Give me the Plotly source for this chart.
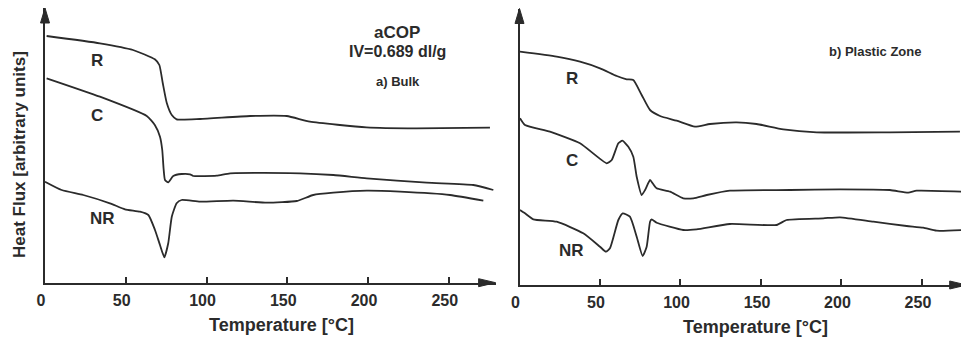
import plotly.graph_objects as go

# ---------------- data (temperature in °C, heat flux in arbitrary units) ----------------
# a) Bulk
bulk_R_T = [1, 34, 54.5, 68, 70.8, 72.9, 75.4, 78.5, 81.5, 96, 127, 149.7, 164, 199, 230, 275.5]
bulk_R_H = [246.7, 239.4, 232.7, 223.4, 217.7, 199.7, 179.7, 167.7, 163.4, 163.7, 166.7, 166.7, 161, 155.4, 154.4, 155]

bulk_C_T = [1, 34, 63, 68, 71.2, 72.6, 73.4, 74.3, 76.3, 79.4, 84.6, 89.8, 91.8, 106.3, 114.6, 157.9, 178.5, 199.2, 236.3, 265.2, 277.6]
bulk_C_H = [204.4, 186, 166.7, 157.7, 146, 132.7, 114.7, 102.7, 100.4, 106.7, 108.7, 108.4, 106.7, 107, 109.4, 109.4, 107.7, 104.4, 100, 97.7, 92.7]

bulk_NR_T = [0, 10.3, 23.7, 40.2, 49.5, 58.8, 64, 68.1, 71.2, 73.9, 76.3, 78.5, 81.5, 84.6, 96, 116.6, 137.3, 155.9, 166.1, 178.5, 199.2, 219.8, 250.8, 271.4]
bulk_NR_H = [101, 92.7, 87.7, 79.4, 73.4, 71, 67.7, 52.7, 37.7, 25.4, 39.4, 66, 79.4, 82.7, 81, 82, 80, 81.7, 87.7, 90, 92, 91, 87.7, 82]

# b) Plastic Zone
pz_R_T = [0.3, 23.1, 37.6, 50, 60.4, 66.6, 70.7, 75.9, 81.1, 87.3, 97.6, 109, 118.3, 134.9, 147.3, 163.9, 184.6, 230.1, 273.6]
pz_R_H = [233.3, 228.3, 223.3, 216.7, 209, 205.7, 205, 190, 175, 169, 164.3, 158.3, 161, 162.7, 161, 155.7, 152.7, 152.7, 153.3]

pz_C_T = [0.3, 3.4, 18.9, 37.6, 54.2, 57.3, 61.4, 63.9, 67.6, 70.7, 72.8, 75.9, 78, 81.1, 82.7, 85.2, 93.5, 101.7, 108, 116.3, 130.7, 168, 199.1, 230.1, 241.5, 246.7, 275.7]
pz_C_H = [166.7, 160, 153.3, 141.7, 121.7, 125, 141.7, 144.3, 138.3, 128.3, 108.3, 90, 95, 105, 101.7, 96.7, 93.3, 86.7, 86.7, 90, 94.3, 95, 95.7, 95, 92.3, 94.3, 93.3]

pz_NR_T = [0.3, 3.4, 8.6, 23.1, 39.6, 50, 53.7, 56.2, 61.4, 64.1, 68.6, 72.8, 76.5, 79, 81.1, 82.1, 85.2, 101.7, 110, 130.7, 159.7, 165.9, 188.7, 199.1, 219.8, 240.5, 250.8, 259.1, 275.7]
pz_NR_H = [75, 71.7, 65.7, 63.3, 51.7, 38.3, 33.3, 36.7, 65, 71.7, 68.3, 48.3, 29, 38.3, 63.3, 65.7, 62.3, 55, 55.7, 61, 60, 65, 66.7, 67.7, 63.3, 59, 57.3, 54.3, 55]

tick_vals = [0, 50, 100, 150, 200, 250]
tick_text = ["0", "50", "100", "150", "200", "250"]

# ---------------- styling ----------------
INK = "#2b2b2b"
FONT = "Liberation Sans"
OFF = 8                      # the page body adds an 8px margin; lay out in screen pixels minus it
W, H = 969 - OFF, 338 - OFF

def px(xs):   # screen x -> paper fraction
    return min(1.0, max(0.0, (xs - OFF) / W))

def py(ys):   # screen y -> paper fraction
    return min(1.0, max(0.0, 1 - (ys - OFF) / H))

fig = go.Figure()

def add_curve(x, y, xa, ya):
    fig.add_trace(go.Scatter(x=x, y=y, mode="lines", xaxis=xa, yaxis=ya,
                             line=dict(color=INK, width=1.8, shape="spline", smoothing=0.5),
                             showlegend=False, hoverinfo="skip", cliponaxis=False))

add_curve(bulk_R_T, bulk_R_H, "x", "y")
add_curve(bulk_C_T, bulk_C_H, "x", "y")
add_curve(bulk_NR_T, bulk_NR_H, "x", "y")
add_curve(pz_R_T, pz_R_H, "x2", "y2")
add_curve(pz_C_T, pz_C_H, "x2", "y2")
add_curve(pz_NR_T, pz_NR_H, "x2", "y2")

xcommon = dict(showgrid=False, zeroline=False, showline=True, linecolor=INK, linewidth=2,
               ticks="inside", ticklen=6, tickwidth=1.5, tickcolor=INK,
               tickvals=tick_vals, ticktext=tick_text, automargin=False,
               tickfont=dict(family=FONT, size=16, color=INK, weight="bold"),
               ticklabelstandoff=2, ticklabelshift=-4)
ycommon = dict(showgrid=False, zeroline=False, showline=True, linecolor=INK, linewidth=2,
               showticklabels=False, ticks="", automargin=False)

# panel frames in screen pixels
L1, R1, T1, B1 = 45, 495.6, 8, 282.7
L2, R2, T2, B2 = 519.5, 966.7, 8.5, 285

XR1 = [0, 279]
XR2 = [0, 277.8]
YR1 = [0, B1 - T1]
YR2 = [0, B2 - T2]

fig.update_layout(
    width=W, height=H, margin=dict(l=0, r=0, t=0, b=0, autoexpand=False),
    paper_bgcolor="white", plot_bgcolor="white",
    xaxis=dict(domain=[px(L1), px(R1)], range=XR1, anchor="y", **xcommon),
    yaxis=dict(domain=[py(B1), py(T1)], range=YR1, anchor="x", **ycommon),
    xaxis2=dict(domain=[px(L2), px(R2)], range=XR2, anchor="y2", **xcommon),
    yaxis2=dict(domain=[py(B2), py(T2)], range=YR2, anchor="x2", **ycommon),
)

# arrowheads at the axis ends (paper-referenced paths)
def arrow_up(xs, ys):
    p = (f"M{px(xs)},{py(ys)} L{px(xs - 4.5)},{py(ys + 15)} "
         f"L{px(xs + 4.5)},{py(ys + 15)} Z")
    fig.add_shape(type="path", xref="paper", yref="paper", path=p,
                  fillcolor=INK, line=dict(color=INK, width=1))

def arrow_right(xs, ys):
    p = (f"M{px(xs)},{py(ys)} L{px(xs - 17)},{py(ys - 4)} "
         f"L{px(xs - 17)},{py(ys + 4)} Z")
    fig.add_shape(type="path", xref="paper", yref="paper", path=p,
                  fillcolor=INK, line=dict(color=INK, width=1))

arrow_up(L1, T1)
arrow_right(R1, B1)
arrow_up(L2, T2)
arrow_right(R2, B2)

def label(text, x, y, xref, yref, size, weight="bold", angle=0):
    fig.add_annotation(text=text, x=x, y=y, xref=xref, yref=yref, showarrow=False,
                       font=dict(family=FONT, size=size, color=INK, weight=weight),
                       xanchor="center", yanchor="middle", textangle=angle)

# curve labels
label("R", 32, 222.7, "x", "y", 17)
label("C", 32, 167.7, "x", "y", 17)
label("NR", 35.9, 64.4, "x", "y", 17)
label("aCOP", 218, 250.7, "x", "y", 17)
label("IV=0.689 dl/g", 218, 231.7, "x", "y", 16)
label("a) Bulk", 218.6, 201.7, "x", "y", 13)

label("R", 32.4, 206, "x2", "y2", 17)
label("C", 32.4, 124, "x2", "y2", 17)
label("NR", 32, 34.3, "x2", "y2", 17)
label("b) Plastic Zone", 220.8, 233.3, "x2", "y2", 13)

# axis titles
label("Temperature [°C]", px(281.7), py(325), "paper", "paper", 18)
label("Temperature [°C]", px(755.8), py(327), "paper", "paper", 18)
label("Heat Flux [arbitrary units]", px(19), py(155), "paper", "paper", 17, angle=-90)

fig.write_html("out.html")
